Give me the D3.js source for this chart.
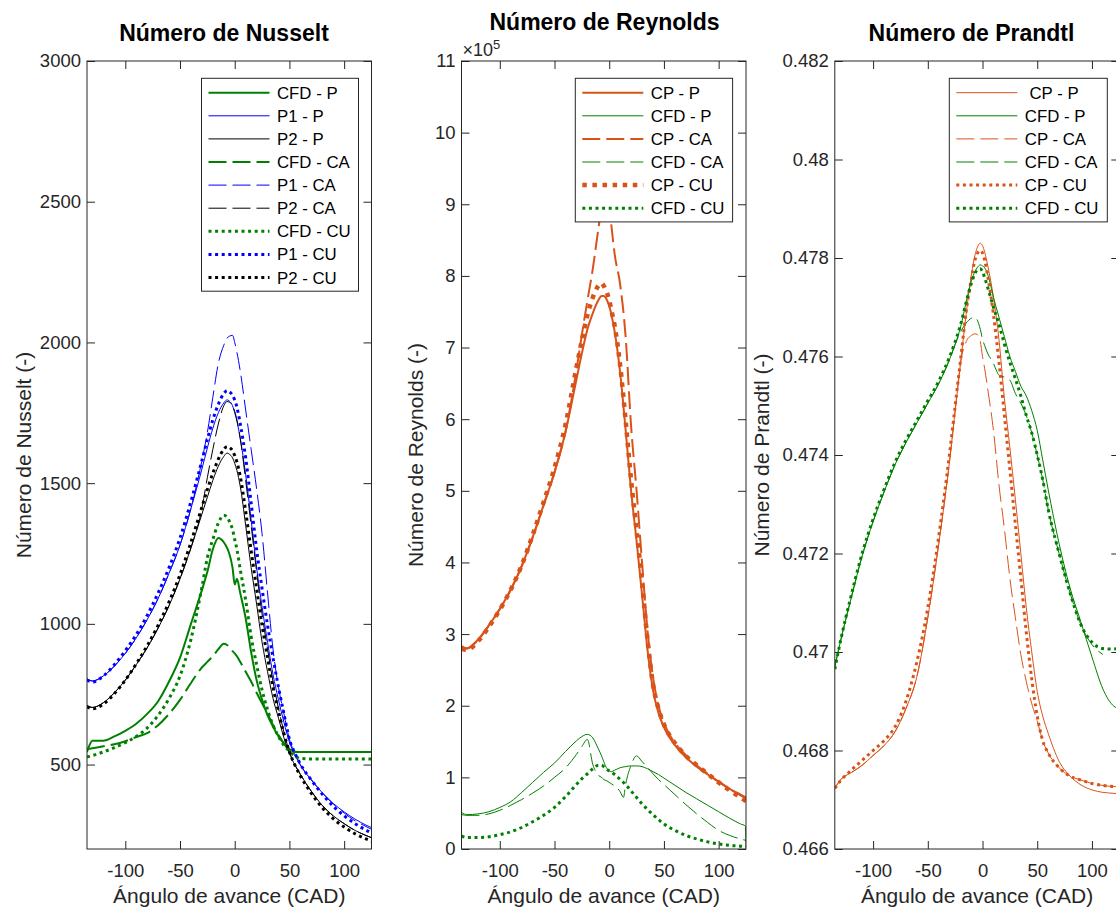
<!DOCTYPE html>
<html>
<head>
<meta charset="utf-8">
<script src="https://cdnjs.cloudflare.com/ajax/libs/d3/7.8.5/d3.min.js"></script>
<style>
  body { margin: 0; background: #fff; }
  svg { display: block; font-family: "Liberation Sans", Arial, Helvetica, sans-serif; }
</style>
</head>
<body>
<svg id="fig" width="1116" height="908"></svg>
<script>
// ── Data ────────────────────────────────────────────────────────────────────
// shared angle grid (CAD); null = no point at that angle for the series
const angles = [
  -135, -130, -120, -110, -100, -90, -80, -70, -60, -50,
  -40, -30, -25, -20, -15, -10, -7, -5, -2, 0,
  2, 5, 10, 13, 15, 20, 25, 30, 35, 40,
  45, 50, 55, 60, 70, 80, 90, 100, 110, 120,
  124.5, 125
];
const xTicks = [-100, -50, 0, 50, 100];

// Nusselt
const nuYTicks = [500, 1000, 1500, 2000, 2500, 3000];
const nuCfdP = [
  545, 585, 585, 600, 620, 645, 680, 725, 795, 880,
  1000, 1120, 1185, 1265, 1305, 1290, 1270, 1250, 1200, 1140,
  1160, 1110, 1020, null, 900, 800, 730, 675, 635, 600,
  575, 555, 546, 545, 545, 545, 545, 545, 545, 545,
  null, 545
];
const nuP1P = [
  805, 797, 815, 850, 895, 950, 1015, 1090, 1180, 1280,
  1410, 1550, 1625, 1695, 1750, 1785, 1796, 1792, 1775, 1750,
  1720, 1660, 1530, null, 1370, 1200, 1060, 935, 820, 730,
  650, 580, 535, 498, 445, 400, 362, 332, 306, 285,
  null, 276
];
const nuP2P = [
  710, 703, 720, 755, 800, 855, 915, 985, 1065, 1160,
  1270, 1390, 1450, 1510, 1560, 1595, 1607, 1603, 1590, 1570,
  1545, 1490, 1350, null, 1200, 1070, 935, 830, 735, 665,
  595, 540, 498, 465, 405, 355, 318, 290, 266, 248,
  null, 240
];
const nuCfdCA = [
  555, 558, 565, 572, 583, 598, 612, 640, 680, 730,
  790, 845, 865, 885, 910, 929, 925, 915, 903, 895,
  885, 865, 830, null, 795, 755, 718, 680, 640, 605,
  575, 550, 545, 545, 545, 545, 545, 545, 545, 545,
  null, 545
];
const nuP1CA = [
  805, 797, 815, 850, 895, 950, 1015, 1090, 1180, 1280,
  1410, 1580, 1680, 1805, 1925, 1990, 2015, 2022, 2025, 2000,
  1965, 1900, 1760, null, 1620, 1480, 1320, 1110, 910, 775,
  680, 590, 540, 500, 447, 400, 360, 328, 300, 280,
  null, 270
];
const nuP2CA = [
  710, 703, 720, 755, 800, 855, 915, 985, 1065, 1160,
  1270, 1410, 1520, 1620, 1710, 1775, 1790, 1788, 1775, 1755,
  1725, 1660, 1510, null, 1350, 1185, 1035, 910, 795, 700,
  615, 545, 500, 465, 405, 355, 318, 290, 266, 248,
  null, 240
];
const nuCfdCU = [
  527, 532, 545, 560, 578, 600, 630, 675, 735, 815,
  945, 1130, 1235, 1300, 1358, 1386, 1380, 1365, 1335, 1300,
  1265, 1195, 1085, null, 955, 855, 765, 695, 640, 600,
  568, 548, 530, 522, 520, 520, 520, 520, 520, 520,
  null, 520
];
const nuP1CU = [
  800, 793, 815, 855, 905, 962, 1030, 1110, 1200, 1305,
  1435, 1580, 1655, 1725, 1780, 1818, 1829, 1825, 1812, 1795,
  1770, 1712, 1590, null, 1430, 1265, 1125, 995, 880, 775,
  680, 590, 540, 502, 445, 395, 352, 318, 290, 267,
  null, 257
];
const nuP2CU = [
  705, 698, 715, 752, 800, 858, 922, 995, 1078, 1175,
  1290, 1415, 1478, 1535, 1585, 1620, 1630, 1627, 1615, 1598,
  1575, 1525, 1400, null, 1260, 1125, 995, 880, 775, 690,
  610, 545, 498, 460, 398, 347, 308, 278, 254, 236,
  null, 228
];

// Reynolds (in units of 1e5)
const reYTicks = [0, 1, 2, 3, 4, 5, 6, 7, 8, 9, 10, 11];
const reCpP = [
  2.83, 2.80, 2.92, 3.12, 3.35, 3.62, 3.95, 4.35, 4.80, 5.26,
  5.82, 6.55, 6.92, 7.25, 7.48, 7.66, 7.72, 7.72, 7.66, 7.58,
  7.46, 7.22, 6.65, null, 5.85, 5.00, 4.30, 3.55, 2.78, 2.22,
  1.90, 1.70, 1.56, 1.45, 1.28, 1.15, 1.04, 0.94, 0.84, 0.76,
  null, 0.72
];
const reCfdP = [
  0.51, 0.48, 0.49, 0.52, 0.58, 0.66, 0.79, 0.93, 1.07, 1.20,
  1.36, 1.51, 1.57, 1.60, 1.55, 1.40, 1.30, 1.22, 1.12, 1.09,
  1.08, 1.10, 1.135, null, 1.15, 1.16, 1.16, 1.15, 1.12, 1.08,
  1.04, 0.99, 0.94, 0.89, 0.79, 0.70, 0.61, 0.52, 0.43, 0.35,
  0.32, 0.02
];
const reCpCA = [
  2.83, 2.80, 2.92, 3.12, 3.35, 3.62, 3.95, 4.35, 4.80, 5.26,
  5.82, 6.68, 7.18, 7.65, 8.10, 8.65, 8.95, 9.10, 9.20, 9.00,
  8.70, 8.30, 7.88, null, 7.15, 5.90, 5.00, 4.00, 3.05, 2.40,
  2.00, 1.76, 1.60, 1.48, 1.31, 1.17, 1.05, 0.94, 0.84, 0.75,
  null, 0.71
];
const reCfdCA = [
  0.48, 0.47, 0.47, 0.49, 0.54, 0.61, 0.69, 0.78, 0.88, 1.00,
  1.13, 1.32, 1.43, 1.53, 1.18, 1.03, 1.00, 0.97, 0.95, 0.93,
  0.91, 0.88, 0.80, 0.72, 0.90, 1.17, 1.30, 1.22, 1.14, 1.05,
  0.97, 0.90, 0.83, 0.76, 0.62, 0.49, 0.37, 0.26, 0.19, 0.14,
  null, 0.12
];
const reCpCU = [
  2.80, 2.78, 2.90, 3.10, 3.34, 3.62, 3.96, 4.38, 4.84, 5.32,
  5.92, 6.72, 7.10, 7.45, 7.70, 7.86, 7.90, 7.86, 7.76, 7.66,
  7.52, 7.30, 6.75, null, 5.98, 5.15, 4.45, 3.72, 2.92, 2.30,
  1.96, 1.74, 1.59, 1.48, 1.30, 1.17, 1.05, 0.93, 0.82, 0.72,
  null, 0.67
];
const reCfdCU = [
  0.18, 0.16, 0.16, 0.17, 0.20, 0.24, 0.30, 0.38, 0.47, 0.58,
  0.73, 0.90, 0.98, 1.05, 1.12, 1.17, 1.17, 1.15, 1.11, 1.09,
  1.07, 1.04, 0.97, null, 0.90, 0.81, 0.72, 0.63, 0.55, 0.48,
  0.41, 0.35, 0.30, 0.26, 0.19, 0.14, 0.10, 0.07, 0.05, 0.04,
  null, 0.03
];

// Prandtl
const prYTicks = [0.466, 0.468, 0.47, 0.472, 0.474, 0.476, 0.478, 0.48, 0.482];
const prCpP = [
  0.46723, 0.46740, 0.46755, 0.46770, 0.46790, 0.46810, 0.46838, 0.46885, 0.46950, 0.47070,
  0.47220, 0.47390, 0.47490, 0.47588, 0.47685, 0.47768, 0.47805, 0.47820, 0.47830, 0.47825,
  0.47812, 0.47782, 0.47720, null, 0.47635, 0.47515, 0.47415, 0.47310, 0.47200, 0.47090,
  0.47000, 0.46920, 0.46870, 0.46835, 0.46778, 0.46748, 0.46730, 0.46720, 0.46715, 0.46713,
  null, 0.46712
];
const prCfdP = [
  0.46970, 0.47020, 0.47110, 0.47195, 0.47265, 0.47325, 0.47380, 0.47425, 0.47465, 0.47505,
  0.47545, 0.47595, 0.47625, 0.47660, 0.47710, 0.47755, 0.47772, 0.47780, 0.47786, 0.47784,
  0.47780, 0.47765, 0.47720, null, 0.47680, 0.47640, 0.47600, 0.47570, 0.47540, 0.47520,
  0.47490, 0.47450, 0.47390, 0.47330, 0.47220, 0.47130, 0.47060, 0.46990, 0.46925, 0.46890,
  null, 0.46885
];
const prCpCA = [
  0.46723, 0.46740, 0.46755, 0.46770, 0.46790, 0.46810, 0.46838, 0.46885, 0.46950, 0.47070,
  0.47220, 0.47390, 0.47490, 0.47588, 0.47630, 0.47643, 0.47646, 0.47645, 0.47630, 0.47600,
  0.47575, 0.47530, 0.47450, null, 0.47340, 0.47250, 0.47150, 0.47070, 0.46995, 0.46940,
  0.46895, 0.46860, 0.46820, 0.46795, 0.46765, 0.46748, 0.46740, 0.46733, 0.46729, 0.46727,
  null, 0.46727
];
const prCfdCA = [
  0.46970, 0.47020, 0.47110, 0.47195, 0.47265, 0.47325, 0.47380, 0.47425, 0.47465, 0.47505,
  0.47545, 0.47595, 0.47625, 0.47650, 0.47668, 0.47678, 0.47680, 0.47675, 0.47655, 0.47635,
  0.47622, 0.47605, 0.47586, 0.47570, 0.47562, 0.47558, 0.47552, 0.47525, 0.47505, 0.47480,
  0.47445, 0.47400, 0.47350, 0.47290, 0.47200, 0.47120, 0.47055, 0.47015, 0.46995, null,
  null, null
];
const prCpCU = [
  0.46723, 0.46738, 0.46760, 0.46780, 0.46800, 0.46820, 0.46848, 0.46900, 0.46980, 0.47090,
  0.47235, 0.47405, 0.47500, 0.47595, 0.47690, 0.47760, 0.47795, 0.47808, 0.47815, 0.47810,
  0.47795, 0.47760, 0.47685, null, 0.47590, 0.47480, 0.47370, 0.47260, 0.47150, 0.47040,
  0.46945, 0.46870, 0.46820, 0.46795, 0.46765, 0.46748, 0.46740, 0.46733, 0.46729, 0.46727,
  null, 0.46727
];
const prCfdCU = [
  0.46965, 0.47020, 0.47115, 0.47200, 0.47270, 0.47330, 0.47385, 0.47430, 0.47470, 0.47510,
  0.47550, 0.47600, 0.47630, 0.47665, 0.47710, 0.47750, 0.47768, 0.47775, 0.47778, 0.47772,
  0.47760, 0.47738, 0.47700, null, 0.47665, 0.47625, 0.47588, 0.47555, 0.47520, 0.47480,
  0.47445, 0.47400, 0.47350, 0.47290, 0.47200, 0.47120, 0.47055, 0.47020, 0.47007, 0.47006,
  null, 0.47008
];

// ── Styles ──────────────────────────────────────────────────────────────────
const GREEN = '#008000';
const BLUE = '#0000ff';
const BLACK = '#000000';
const ORANGE = '#d95319';
const AXIS = '#262626';
const DASH = '18,6';
const DOT = '3,3.6';
const DOT_BIG = '4.5,5.6';

const TOP = 61;
const BOTTOM = 849;
const W = 284.5;
const TICK_LEN = 8;

const panels = [
  {
    left: 87, title: 'Número de Nusselt', titleX: 224, titleY: 41,
    ylabel: 'Número de Nusselt (-)', ylabelX: 31,
    yDomain: [200, 3000], yTicks: nuYTicks, fmt: d => String(d),
    legendW: 157, legendRight: 13,
    series: [
      { name: 'CFD - P', v: nuCfdP, c: GREEN, w: 2 },
      { name: 'P1 - P', v: nuP1P, c: BLUE, w: 1 },
      { name: 'P2 - P', v: nuP2P, c: BLACK, w: 1 },
      { name: 'CFD - CA', v: nuCfdCA, c: GREEN, w: 2, d: DASH },
      { name: 'P1 - CA', v: nuP1CA, c: BLUE, w: 1, d: DASH },
      { name: 'P2 - CA', v: nuP2CA, c: BLACK, w: 1, d: DASH },
      { name: 'CFD - CU', v: nuCfdCU, c: GREEN, w: 3, d: DOT },
      { name: 'P1 - CU', v: nuP1CU, c: BLUE, w: 3, d: DOT },
      { name: 'P2 - CU', v: nuP2CU, c: BLACK, w: 3, d: DOT }
    ]
  },
  {
    left: 461.5, title: 'Número de Reynolds', titleX: 604.5, titleY: 29.5,
    ylabel: 'Número de Reynolds (-)', ylabelX: 423, exponent: true,
    yDomain: [0, 11], yTicks: reYTicks, fmt: d => String(d),
    legendW: 157.3, legendRight: 13.4,
    series: [
      { name: 'CP - P', v: reCpP, c: ORANGE, w: 2 },
      { name: 'CFD - P', v: reCfdP, c: GREEN, w: 1 },
      { name: 'CP - CA', v: reCpCA, c: ORANGE, w: 2, d: DASH },
      { name: 'CFD - CA', v: reCfdCA, c: GREEN, w: 1, d: DASH },
      { name: 'CP - CU', v: reCpCU, c: ORANGE, w: 4.5, d: DOT_BIG },
      { name: 'CFD - CU', v: reCfdCU, c: GREEN, w: 3, d: DOT }
    ]
  },
  {
    left: 834.8, title: 'Número de Prandtl', titleX: 971.5, titleY: 40.5,
    ylabel: 'Número de Prandtl (-)', ylabelX: 769,
    yDomain: [0.466, 0.482], yTicks: prYTicks, fmt: d => String(+d.toFixed(3)),
    legendW: 158, legendRight: 12,
    series: [
      { name: '\u00a0CP - P', v: prCpP, c: ORANGE, w: 1 },
      { name: 'CFD - P', v: prCfdP, c: GREEN, w: 1 },
      { name: 'CP - CA', v: prCpCA, c: ORANGE, w: 1, d: DASH },
      { name: 'CFD - CA', v: prCfdCA, c: GREEN, w: 1, d: DASH },
      { name: 'CP - CU', v: prCpCU, c: ORANGE, w: 3, d: DOT },
      { name: 'CFD - CU', v: prCfdCU, c: GREEN, w: 3, d: DOT }
    ]
  }
];

// ── Drawing ─────────────────────────────────────────────────────────────────
const svg = d3.select('#fig');
const defs = svg.append('defs');

function styleAxis(sel) {
  sel.select('.domain').remove();
  sel.selectAll('.tick line').attr('stroke', AXIS).attr('stroke-width', 1);
  sel.selectAll('.tick text')
    .attr('fill', AXIS)
    .attr('font-size', '18.5px')
    .attr('font-family', null);
}

function drawPanel(p, idx) {
  const right = p.left + W;
  const x = d3.scaleLinear().domain([-135, 125]).range([p.left, right]);
  const y = d3.scaleLinear().domain(p.yDomain).range([BOTTOM, TOP]);

  const clipId = 'clip' + idx;
  defs.append('clipPath').attr('id', clipId)
    .append('rect')
    .attr('x', p.left).attr('y', TOP)
    .attr('width', W).attr('height', BOTTOM - TOP);

  // ticks + labels
  svg.append('g')
    .attr('transform', `translate(${p.left},0)`)
    .call(d3.axisLeft(y).tickValues(p.yTicks).tickFormat(p.fmt)
      .tickSizeInner(-TICK_LEN).tickSizeOuter(0).tickPadding(6))
    .call(styleAxis);
  svg.append('g')
    .attr('transform', `translate(${right},0)`)
    .call(d3.axisRight(y).tickValues(p.yTicks).tickFormat('')
      .tickSizeInner(-TICK_LEN).tickSizeOuter(0))
    .call(styleAxis);
  svg.append('g')
    .attr('transform', `translate(0,${BOTTOM})`)
    .call(d3.axisBottom(x).tickValues(xTicks).tickFormat(d => String(d))
      .tickSizeInner(-TICK_LEN).tickSizeOuter(0).tickPadding(15))
    .call(styleAxis);
  svg.append('g')
    .attr('transform', `translate(0,${TOP})`)
    .call(d3.axisTop(x).tickValues(xTicks).tickFormat('')
      .tickSizeInner(-TICK_LEN).tickSizeOuter(0))
    .call(styleAxis);

  // series
  const plot = svg.append('g').attr('clip-path', `url(#${clipId})`);
  const line = d3.line()
    .x(d => x(d[0]))
    .y(d => y(d[1]))
    .curve(d3.curveMonotoneX);

  p.series.forEach(s => {
    const pts = angles.map((a, i) => [a, s.v[i]]).filter(d => d[1] != null);
    plot.append('path')
      .attr('d', line(pts))
      .attr('fill', 'none')
      .attr('stroke', s.c)
      .attr('stroke-width', s.w)
      .attr('stroke-dasharray', s.d || null)
      .attr('stroke-linejoin', 'round')
      .attr('stroke-linecap', 'butt');
  });

  // box
  svg.append('rect')
    .attr('x', p.left).attr('y', TOP)
    .attr('width', W).attr('height', BOTTOM - TOP)
    .attr('fill', 'none')
    .attr('stroke', AXIS)
    .attr('stroke-width', 1);

  // legend
  const rowH = 23.1;
  const lx = right - p.legendRight - p.legendW;
  const ly = TOP + 17.3;
  const lh = p.series.length * rowH + 5;
  const lg = svg.append('g');
  lg.append('rect')
    .attr('x', lx).attr('y', ly)
    .attr('width', p.legendW).attr('height', lh)
    .attr('fill', '#fff')
    .attr('stroke', AXIS)
    .attr('stroke-width', 1);
  p.series.forEach((s, i) => {
    const cy = ly + 14.4 + i * rowH;
    lg.append('line')
      .attr('x1', lx + 7).attr('x2', lx + 68)
      .attr('y1', cy).attr('y2', cy)
      .attr('stroke', s.c)
      .attr('stroke-width', s.w)
      .attr('stroke-dasharray', s.d || null);
    lg.append('text')
      .attr('x', lx + 75.5)
      .attr('y', cy + 6)
      .attr('font-size', '16.8px')
      .attr('fill', '#000')
      .text(s.name);
  });

  // title
  svg.append('text')
    .attr('x', p.titleX).attr('y', p.titleY)
    .attr('text-anchor', 'middle')
    .attr('font-size', '23px')
    .attr('font-weight', 'bold')
    .attr('fill', '#000')
    .text(p.title);

  // axis labels
  svg.append('text')
    .attr('x', p.left + W / 2).attr('y', 903)
    .attr('text-anchor', 'middle')
    .attr('font-size', '21px')
    .attr('fill', AXIS)
    .text('Ángulo de avance (CAD)');

  svg.append('text')
    .attr('transform', `translate(${p.ylabelX},${(TOP + BOTTOM) / 2}) rotate(-90)`)
    .attr('text-anchor', 'middle')
    .attr('font-size', '21px')
    .attr('fill', AXIS)
    .text(p.ylabel);

  if (p.exponent) {
    const ex = svg.append('text')
      .attr('x', p.left + 1).attr('y', 56)
      .attr('font-size', '18px')
      .attr('fill', AXIS);
    ex.append('tspan').text('\u00d710');
    ex.append('tspan').attr('dy', -7).attr('font-size', '13px').text('5');
  }
}

panels.forEach(drawPanel);
</script>
</body>
</html>
